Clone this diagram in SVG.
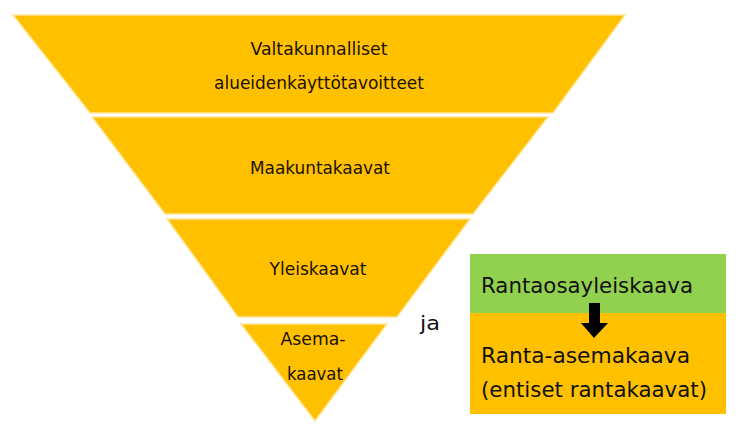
<svg xmlns="http://www.w3.org/2000/svg" width="740" height="429" viewBox="0 0 740 429">
<style>
.lvl{fill:#FFC000;stroke:#FFE699;stroke-width:1.5;stroke-linejoin:miter}
.t{font-family:"DejaVu Sans","Liberation Sans",sans-serif;font-size:17.5px;fill:#1a1205;text-anchor:middle}
.b{font-family:"DejaVu Sans","Liberation Sans",sans-serif;font-size:21px;fill:#111}
</style>
<rect width="740" height="429" fill="#ffffff"/>
<g id="level1">
<polygon class="lvl" points="13,15 625,15 553,113 90,113"/>
<text class="t" x="319" y="55" textLength="137" lengthAdjust="spacingAndGlyphs">Valtakunnalliset</text>
<text class="t" x="319" y="89" textLength="210" lengthAdjust="spacingAndGlyphs">alueidenkäyttötavoitteet</text>
</g>
<g id="level2">
<polygon class="lvl" points="92,117 548,117 473,214 165,214"/>
<text class="t" x="320" y="174" textLength="140" lengthAdjust="spacingAndGlyphs">Maakuntakaavat</text>
</g>
<g id="level3">
<polygon class="lvl" points="167,219 470,219 397,317 238,317"/>
<text class="t" x="318" y="275" textLength="97" lengthAdjust="spacingAndGlyphs">Yleiskaavat</text>
</g>
<g id="level4">
<polygon class="lvl" points="241,324 387,324 315,421"/>
<text class="t" x="313" y="345" textLength="65" lengthAdjust="spacingAndGlyphs">Asema-</text>
<text class="t" x="315" y="380" textLength="56" lengthAdjust="spacingAndGlyphs">kaavat</text>
</g>
<g id="ja">
<text class="b" x="420" y="330" style="font-size:19px" textLength="20" lengthAdjust="spacingAndGlyphs">ja</text>
</g>
<g id="rantaosayleiskaava">
<rect x="470" y="254" width="256" height="59" fill="#92D050"/>
<text class="b" x="481" y="293" textLength="212" lengthAdjust="spacingAndGlyphs">Rantaosayleiskaava</text>
</g>
<g id="ranta-asemakaava">
<rect x="470" y="313" width="256" height="101" fill="#FFC000"/>
<text class="b" x="481" y="363" textLength="209" lengthAdjust="spacingAndGlyphs">Ranta-asemakaava</text>
<text class="b" x="481" y="397" textLength="226" lengthAdjust="spacingAndGlyphs">(entiset rantakaavat)</text>
</g>
<g id="connectors">
<polygon points="589,303 600,303 600,323 608,323 594,338 581,323 589,323" fill="#000"/>
</g>
</svg>
